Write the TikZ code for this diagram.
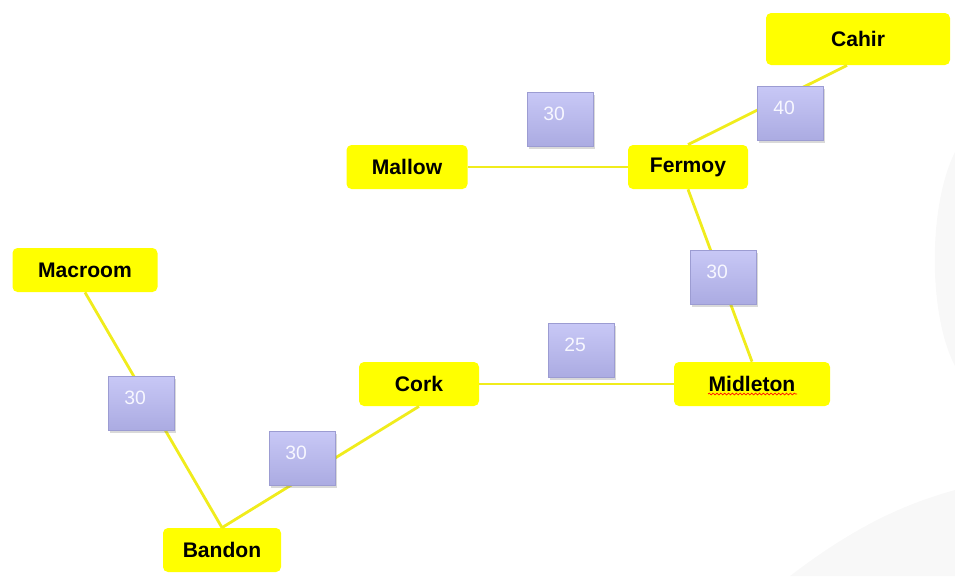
\documentclass[tikz,border=0pt]{standalone}
\usepackage{fontspec}
\setmainfont{Liberation Sans}
\usetikzlibrary{shadows,decorations.pathmorphing}
\definecolor{townfill}{HTML}{FFFF00}
\definecolor{road}{HTML}{F0EC1C}
\definecolor{distline}{HTML}{9C9CD2}
\definecolor{disttop}{HTML}{C8C8F6}
\definecolor{distbot}{HTML}{ABABE2}
\definecolor{bgcurve}{HTML}{F8F8F8}

\begin{document}
\begin{tikzpicture}[x=0.02cm,y=-0.02cm,
  town/.style={fill=townfill,rounded corners=0.1cm,minimum height=0.88cm,
    font=\bfseries\fontsize{12}{14}\selectfont},
  dist/.style={draw=distline,line width=0.4pt,top color=disttop,bottom color=distbot,
    minimum width=1.32cm,minimum height=1.08cm,
    drop shadow={opacity=0.3,shadow xshift=1pt,shadow yshift=-1.5pt}},
  distlbl/.style={text=white!97!blue,font=\fontsize{11}{13}\selectfont,xshift=-0.12cm,yshift=0.11cm}]
\useasboundingbox (0,0) rectangle (955,576);
\fill[bgcurve] (955,152) .. controls (928,205) and (928,315) .. (955,366) -- cycle;
\fill[bgcurve] (790,576) .. controls (850,530) and (900,505) .. (955,490) -- (955,576) -- cycle;
\foreach \nm/\xx/\yy/\ww in {Mallow/407/167/121,Fermoy/688/167/120,Macroom/85/270/145,
  Cork/419/384/120,Midleton/752/384/156,Bandon/222/550/118}
  \node[town,minimum width=\ww*0.02cm] (\nm) at (\xx,\yy) {\nm};
\node[town,minimum width=3.68cm,minimum height=1.04cm] (Cahir) at (858,39) {Cahir};
\draw[red!85!orange,decorate,decoration={snake,amplitude=0.5pt,segment length=2.2pt}]
  ([xshift=-0.88cm,yshift=-0.2cm]Midleton.center) -- ++(1.78cm,0);
\draw[road,line width=1.6pt] (Macroom.south) -- (Bandon.north);
\draw[road,line width=1.6pt] (Bandon.north) -- (Cork.south);
\draw[road,line width=1.6pt] (Cork.east) -- (Midleton.west);
\draw[road,line width=1.6pt] (Mallow.east) -- (Fermoy.west);
\draw[road,line width=1.6pt] (Fermoy.south) -- (Midleton.north);
\draw[road,line width=1.6pt] (Fermoy.north) -- ([xshift=-0.22cm]Cahir.south);
\foreach \nm/\xx/\yy/\dd in {mf/560/119/30,fc/790/113/40,fm/723/277/30,
  cm/581/350/25,mb/141/403/30,bc/302/458/30}
  \node[dist,label={[distlbl]center:\dd}] (\nm) at (\xx,\yy) {};
\end{tikzpicture}
\end{document}
